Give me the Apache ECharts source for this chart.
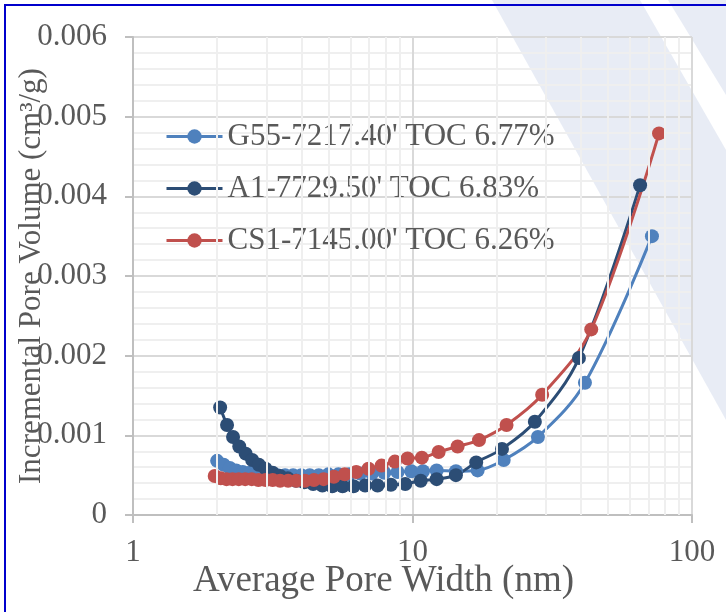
<!DOCTYPE html>
<html lang="en">
<head>
<meta charset="UTF-8">
<title>Incremental Pore Volume</title>
<script src="https://cdn.jsdelivr.net/npm/echarts@6/dist/echarts.min.js"></script>
<style>
    *{ margin: 0; }
    html,body{ width: 726px; height: 612px; background: #fff; }
    #chart{ width: 726px; height: 612px; }
</style>
</head>
<body>
<div id="chart"></div>
<script>
// pore widths (nm) and incremental pore volume (cm3/g)
const g55Width = [2.00, 2.11, 2.22, 2.34, 2.47, 2.61, 2.76, 2.92, 3.10, 3.29, 3.50, 3.74, 4.00, 4.29, 4.62, 5.00, 5.43, 5.93, 6.50, 7.16, 7.93, 8.84, 9.9, 10.9, 12.2, 14.3, 17.1, 21.2, 28.1, 41.4, 71.9];
const g55Vol = [0.00068, 0.00063, 0.00059, 0.00056, 0.00054, 0.00053, 0.00052, 0.00051, 0.00050, 0.00050, 0.00050, 0.00050, 0.00050, 0.00050, 0.00050, 0.00051, 0.00051, 0.00051, 0.00052, 0.00052, 0.00053, 0.00054, 0.00055, 0.00055, 0.00056, 0.00055, 0.00056, 0.00069, 0.00098, 0.00166, 0.00350];

const a1Width = [2.05, 2.17, 2.28, 2.40, 2.53, 2.67, 2.82, 2.98, 3.16, 3.36, 3.58, 3.83, 4.10, 4.41, 4.76, 5.16, 5.62, 6.15, 6.77, 7.50, 8.37, 9.42, 10.7, 12.2, 14.3, 16.9, 20.9, 27.4, 39.4, 65.2];
const a1Vol = [0.00135, 0.00113, 0.00098, 0.00086, 0.00077, 0.00069, 0.00063, 0.00058, 0.00053, 0.00049, 0.00046, 0.00043, 0.00041, 0.00039, 0.00037, 0.00036, 0.00036, 0.00036, 0.00037, 0.00037, 0.00038, 0.00039, 0.00043, 0.00045, 0.00050, 0.00066, 0.00083, 0.00117, 0.00197, 0.00414];

const cs1Width = [1.96, 2.06, 2.16, 2.27, 2.39, 2.52, 2.66, 2.81, 2.98, 3.16, 3.36, 3.59, 3.84, 4.12, 4.44, 4.81, 5.23, 5.72, 6.29, 6.96, 7.75, 8.65, 9.6, 10.8, 12.4, 14.5, 17.3, 21.7, 29.1, 43.6, 76.2];
const cs1Vol = [0.00049, 0.00046, 0.00045, 0.00045, 0.00045, 0.00045, 0.00045, 0.00044, 0.00044, 0.00044, 0.00043, 0.00043, 0.00043, 0.00043, 0.00044, 0.00045, 0.00048, 0.00051, 0.00054, 0.00058, 0.00062, 0.00067, 0.00071, 0.00072, 0.00079, 0.00086, 0.00094, 0.00113, 0.00151, 0.00233, 0.00479];

const seriesNames = ["G55-7217.40' TOC 6.77%", "A1-7729.50' TOC 6.83%", "CS1-7145.00' TOC 6.26%"];
const seriesColors = ['#4f81bd', '#2c4d75', '#c0504d'];
// minor vertical gridlines of the log axis
const minorWidths = [2, 3, 4, 5, 6, 7, 8, 9, 20, 30, 40, 50, 60, 70, 80, 90];

const FONT = 'Liberation Serif';
const TXT = '#595959';

function pairs(xs, ys){ return xs.map((x, i) => [x, ys[i]]); }

function lineSeries(name, color, data){
    return {
        name: name,
        type: 'line',
        data: data,
        smooth: 0.35,
        symbol: 'circle',
        symbolSize: 14,
        color: color,
        lineStyle: { width: 3, color: color },
        itemStyle: { color: color }
    };
}

let chart = echarts.init(document.getElementById('chart'));
chart.setOption({
    animation: false,
    backgroundColor: '#fff',
    textStyle: { fontFamily: FONT },
    graphic: [
        // faint diagonal watermark bands on the right
        { type: 'polygon', z: -10, silent: true, shape: { points: [[492,0],[640,0],[726,150],[726,420]] }, style: { fill: 'rgba(205,212,232,0.45)' } },
        { type: 'polygon', z: -10, silent: true, shape: { points: [[668,0],[726,0],[726,95]] }, style: { fill: 'rgba(205,212,232,0.45)' } },
        // blue frame
        { type: 'rect', z: 100, silent: true, shape: { x: 5, y: 5, width: 760, height: 640 }, style: { fill: 'none', stroke: '#0000cc', lineWidth: 2 } }
    ],
    grid: { left: 133, right: 34, top: 37, bottom: 97, outerBoundsMode: 'none', containLabel: false },
    legend: {
        orient: 'vertical',
        left: 160,
        top: 116,
        itemWidth: 56,
        itemHeight: 18,
        itemGap: 21,
        data: seriesNames,
        lineStyle: { width: 3 },
        textStyle: { fontFamily: FONT, fontSize: 31, color: TXT }
    },
    xAxis: {
        type: 'log',
        logBase: 10,
        min: 1,
        max: 100,
        name: 'Average Pore Width (nm)',
        nameLocation: 'middle',
        nameGap: 48,
        nameMoveOverlap: false,
        nameTextStyle: { fontFamily: FONT, fontSize: 37, color: TXT, padding: [0, 58, 0, 0] },
        axisLine: { lineStyle: { color: '#bfbfbf', width: 2 } },
        axisTick: { show: true, length: 8, lineStyle: { color: '#bfbfbf', width: 2 } },
        axisLabel: { fontFamily: FONT, fontSize: 31, color: TXT, margin: 22 },
        splitLine: { show: true, lineStyle: { color: '#d9d9d9', width: 2 } }
    },
    yAxis: {
        type: 'value',
        min: 0,
        max: 0.006,
        interval: 0.001,
        name: 'Incremental Pore Volume (cm³/g)',
        nameLocation: 'middle',
        nameGap: 86,
        nameMoveOverlap: false,
        nameTextStyle: { fontFamily: FONT, fontSize: 31, color: TXT },
        axisLine: { show: true, lineStyle: { color: '#bfbfbf', width: 2 } },
        axisTick: { show: true, length: 8, lineStyle: { color: '#bfbfbf', width: 2 } },
        axisLabel: {
            fontFamily: FONT, fontSize: 31, color: TXT, margin: 26,
            formatter: v => v === 0 ? '0' : v.toFixed(3)
        },
        splitLine: { show: true, lineStyle: { color: '#d9d9d9', width: 2 } },
        minorSplitLine: { show: true, lineStyle: { color: '#efefef', width: 2 } },
        minorTick: { show: false, splitNumber: 5 }
    },
    series: [
        {
            type: 'line',
            data: [],
            silent: true,
            markLine: {
                silent: true,
                symbol: 'none',
                label: { show: false },
                lineStyle: { color: '#efefef', width: 2, type: 'solid' },
                data: minorWidths.map(w => ({ xAxis: w }))
            },
            z: 0
        },
        lineSeries(seriesNames[0], seriesColors[0], pairs(g55Width, g55Vol)),
        lineSeries(seriesNames[1], seriesColors[1], pairs(a1Width, a1Vol)),
        lineSeries(seriesNames[2], seriesColors[2], pairs(cs1Width, cs1Vol))
    ]
});
</script>
</body>
</html>
